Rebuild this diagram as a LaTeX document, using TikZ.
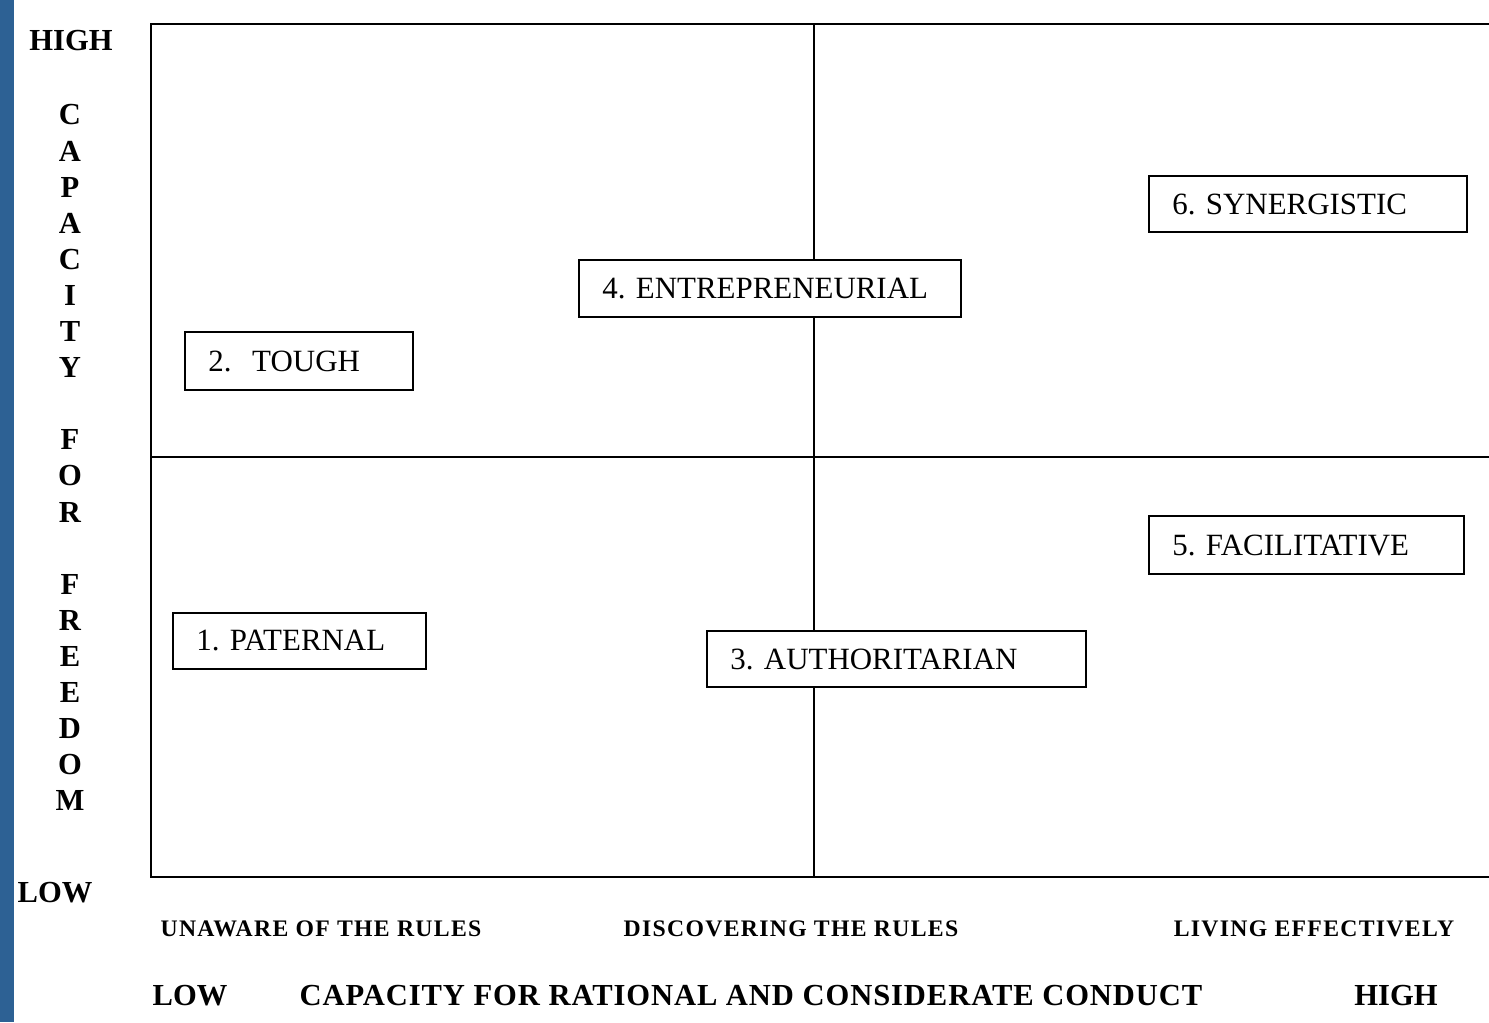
\documentclass[tikz,border=0pt]{standalone}
\usepackage{fontspec}
\setmainfont{Liberation Serif}
\usepackage{tikz}
\definecolor{sidebar}{RGB}{45,97,148}
\frenchspacing

\begin{document}
\begin{tikzpicture}[x=0.02cm,y=-0.02cm,
  box/.style={draw,fill=white,line width=1.1pt,anchor=west,align=left,inner xsep=0.47cm,inner ysep=0pt,font=\fontsize{17.6}{20}\selectfont},
  axis/.style={inner sep=0pt,font=\fontsize{17.4}{20}\selectfont\bfseries},
  stage/.style={inner sep=0pt,font=\fontsize{13.5}{16}\selectfont\bfseries\addfontfeatures{LetterSpace=5.5}}]
\useasboundingbox (0,0) rectangle (1489,1022);
\fill[sidebar] (0,0) rectangle (14,1022);
% frame and quadrants
\draw[line width=1.3pt] (1489,24) -- (151,24) -- (151,877) -- (1489,877);
\draw[line width=1pt] (814,24) -- (814,877);
\draw[line width=1pt] (151,457) -- (1489,457);
% styles of leadership
\node[box,text width=5.42cm,minimum height=1.12cm] (syn) at (1148,204) {6. SYNERGISTIC};
\node[box,text width=6.70cm,minimum height=1.14cm] (ent) at (578,288.5) {4. ENTREPRENEURIAL};
\node[box,text width=3.62cm,minimum height=1.16cm] (tough) at (184,361) {2.\ \ TOUGH};
\node[box,text width=5.36cm,minimum height=1.16cm] (fac) at (1148,545) {5. FACILITATIVE};
\node[box,text width=4.12cm,minimum height=1.12cm] (pat) at (172,641) {1. PATERNAL};
\node[box,text width=6.64cm,minimum height=1.12cm] (auth) at (706,659) {3. AUTHORITARIAN};
% vertical axis
\node[axis] (yhigh) at (71,41) {HIGH};
\node[axis] (ylow) at (55,893) {LOW};
\foreach \ch [count=\i] in {C,A,P,A,C,I,T,Y,{},F,O,R,{},F,R,E,E,D,O,M}
  \node[axis] (ltr\i) at (70,{115+36.1*(\i-1)}) {\ch};
% horizontal axis
\node[stage] (unaware) at (321,929) {UNAWARE OF THE RULES};
\node[stage] (discover) at (791,929) {DISCOVERING THE RULES};
\node[stage] (living) at (1314,929) {LIVING EFFECTIVELY};
\node[axis] (xlow) at (190,996) {LOW};
\node[axis,font=\fontsize{17.4}{20}\selectfont\bfseries\addfontfeatures{LetterSpace=3}] (xtitle) at (751,996) {CAPACITY FOR RATIONAL AND CONSIDERATE CONDUCT};
\node[axis] (xhigh) at (1396,996) {HIGH};
\end{tikzpicture}
\end{document}
